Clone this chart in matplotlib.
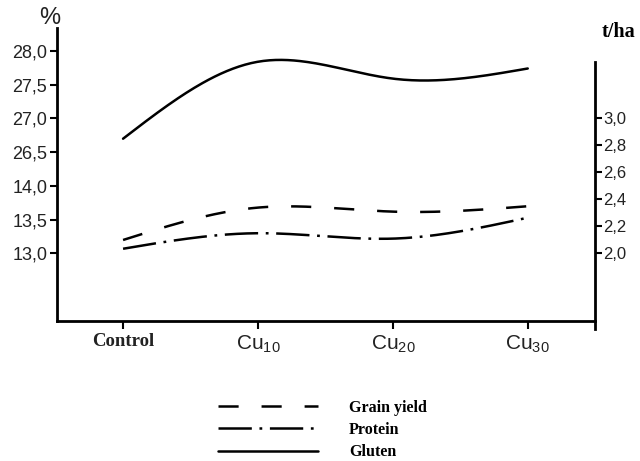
import numpy as np
import matplotlib.pyplot as plt

plt.rcParams['lines.scale_dashes'] = False
plt.rcParams['mathtext.fontset'] = 'custom'
plt.rcParams['mathtext.rm'] = 'Liberation Sans'

treatments = ['Control', r'Cu$_{\mathregular{10}}$', r'Cu$_{\mathregular{20}}$', r'Cu$_{\mathregular{30}}$']
gluten = [26.70, 27.84, 27.59, 27.74]        # %
protein = [13.07, 13.30, 13.22, 13.53]       # %
grain_yield = [2.10, 2.34, 2.31, 2.35]       # t/ha

left_ticks = [13.0, 13.5, 14.0, 26.5, 27.0, 27.5, 28.0]
left_labels = ['13,0', '13,5', '14,0', '26,5', '27,0', '27,5', '28,0']
right_ticks = [2.0, 2.2, 2.4, 2.6, 2.8, 3.0]
right_labels = ['2,0', '2,2', '2,4', '2,6', '2,8', '3,0']


def pct_to_axis(v):
    # broken % scale: 13-14 on the lower part, 26.5-28 on the upper part
    v = np.asarray(v, dtype=float)
    return np.where(v < 20, (v - 13.0) / 0.5, 3 + (v - 26.5) / 0.5)


def smooth(x, y, n=200):
    # natural cubic spline, only for drawing a smooth line through the points
    x = np.asarray(x, float)
    y = np.asarray(y, float)
    k = len(x)
    h = np.diff(x)
    A = np.zeros((k, k))
    b = np.zeros(k)
    A[0, 0] = A[-1, -1] = 1
    for i in range(1, k - 1):
        A[i, i - 1] = h[i - 1]
        A[i, i] = 2 * (h[i - 1] + h[i])
        A[i, i + 1] = h[i]
        b[i] = 6 * ((y[i + 1] - y[i]) / h[i] - (y[i] - y[i - 1]) / h[i - 1])
    M = np.linalg.solve(A, b)
    xs = np.linspace(x[0], x[-1], n)
    j = np.clip(np.searchsorted(x, xs) - 1, 0, k - 2)
    t1 = x[j + 1] - xs
    t0 = xs - x[j]
    hj = h[j]
    ys = (M[j] * t1 ** 3 + M[j + 1] * t0 ** 3) / (6 * hj) \
        + (y[j] / hj - M[j] * hj / 6) * t1 + (y[j + 1] / hj - M[j + 1] * hj / 6) * t0
    return xs, ys


x = np.arange(len(treatments))

fig = plt.figure(figsize=(6.4, 4.61), dpi=100)
ax = fig.add_axes([0.089, 0.3037, 0.841, 0.6356])
ax2 = ax.twinx()

ax.set_xlim(-0.49, 3.5)
ax.set_ylim(-2.0, 6.68)
ax2.set_ylim(1.5, 1.5 + 293 / 135)

dash = (0, (14.5, 16.5))
dashdot = (0, (24, 5.5, 2, 5.5))
lw = 1.8

xs, ys = smooth(x, pct_to_axis(gluten))
l3, = ax.plot(xs, ys, color='black', lw=lw, solid_capstyle='round')
xs, ys = smooth(x, pct_to_axis(protein))
l2, = ax.plot(xs, ys, color='black', lw=lw, linestyle=dashdot)
xs, ys = smooth(x, grain_yield)
l1, = ax2.plot(xs, ys, color='black', lw=lw, linestyle=dash)

ax.spines['top'].set_visible(False)
ax2.spines['top'].set_visible(False)
ax.spines['right'].set_visible(False)
ax2.spines['left'].set_visible(False)
ax2.spines['bottom'].set_visible(False)
for sp in [ax.spines['left'], ax.spines['bottom'], ax2.spines['right']]:
    sp.set_linewidth(2)
ax2.spines['right'].set_bounds(1.5 - 8 / 135, 1.5 + 259 / 135)

ax.set_yticks(pct_to_axis(left_ticks))
ax.set_yticklabels(left_labels, fontsize=13, family='Liberation Sans', color='#222222')
ax.tick_params(axis='y', direction='out', length=5, width=1.5, pad=2)

ax2.set_yticks(right_ticks)
ax2.set_yticklabels(right_labels, fontsize=12, family='Liberation Sans', color='#222222')
ax2.tick_params(axis='y', direction='out', length=5, width=1.5, pad=1)

ax.set_xticks(x)
ax.set_xticklabels(treatments, fontsize=15, family='Liberation Sans', color='#222222')
ax.get_xticklabels()[0].set_fontfamily('Liberation Serif')
ax.get_xticklabels()[0].set_fontweight('bold')
ax.get_xticklabels()[0].set_fontsize(13.5)
ax.tick_params(axis='x', direction='out', length=6, width=1.5, pad=3)

fig.text(50 / 640, 1 - 18 / 461, '%', fontsize=17, family='Liberation Sans',
         ha='center', va='center', color='#222222')
fig.text(619 / 640, 1 - 32 / 461, 't/ha', fontsize=14.5, family='Liberation Serif',
         fontweight='bold', ha='center', va='center')

leg = fig.legend([l1, l2, l3], ['Grain yield', 'Protein', 'Gluten'],
                 loc='upper left', bbox_to_anchor=(210 / 640, 1 - 392 / 461),
                 frameon=False, handlelength=6.25, handletextpad=1.95,
                 labelspacing=0.38, borderpad=0,
                 prop={'family': 'Liberation Serif', 'weight': 'bold', 'size': 11.5})

fig.savefig('out.png', dpi=100)
